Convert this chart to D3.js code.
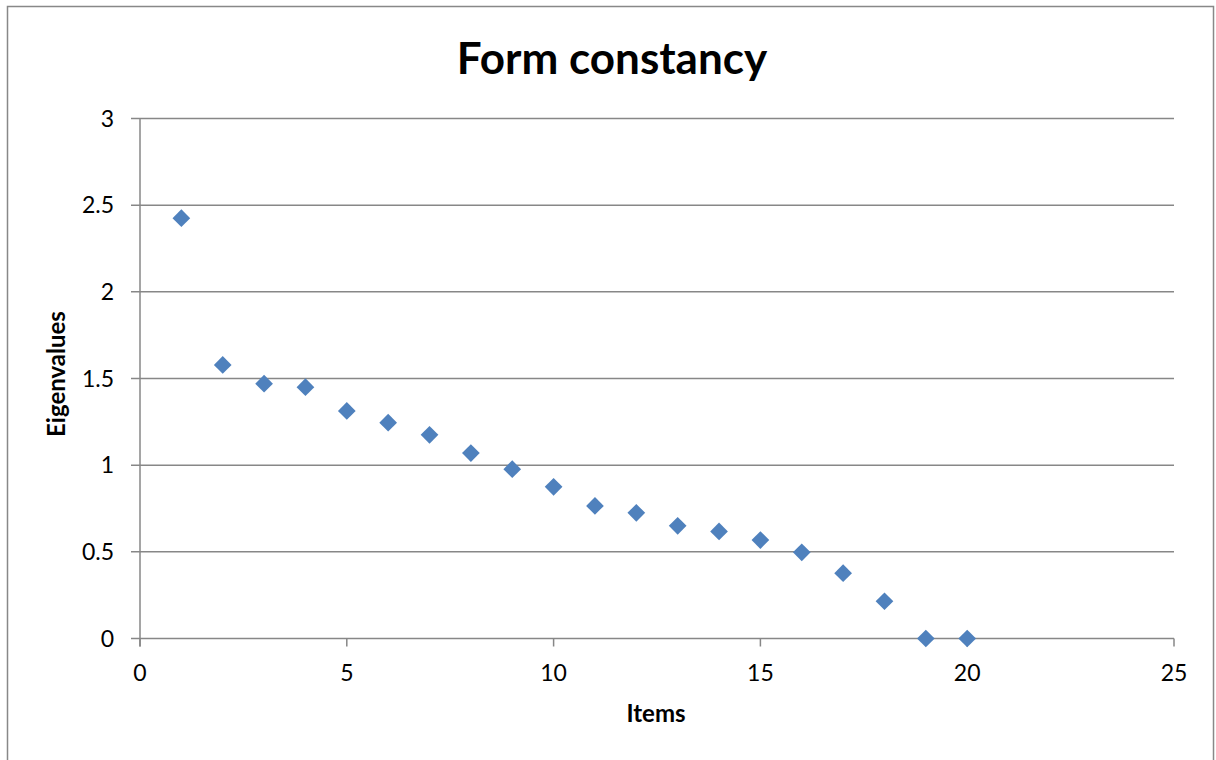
<!DOCTYPE html>
<html><head><meta charset="utf-8">
<script src="https://cdn.jsdelivr.net/npm/d3@7"></script>
<style>body{margin:0;background:#fff}svg{display:block}</style>
</head><body>
<script>
const items = [1,2,3,4,5,6,7,8,9,10,11,12,13,14,15,16,17,18,19,20];
const eigenvalues = [2.425,1.578,1.470,1.450,1.313,1.245,1.175,1.070,0.977,0.875,0.765,0.725,0.650,0.618,0.568,0.497,0.377,0.215,0.0,0.0];
const xTicks = [0,5,10,15,20,25];
const yTicks = [0,0.5,1,1.5,2,2.5,3];
const title = "Form constancy";
const xLabel = "Items";
const yLabel = "Eigenvalues";

const W = 1216, H = 760;
const svg = d3.select("body").append("svg").attr("width", W).attr("height", H);
const font = "Lato, 'Open Sans', sans-serif";

svg.append("rect").attr("x", 7.5).attr("y", 6.5).attr("width", 1206).attr("height", 760)
  .attr("fill", "#fff").attr("stroke", "#888").attr("stroke-width", 1.5);

const x = d3.scaleLinear().domain([0,25]).range([140,1174]);
const y = d3.scaleLinear().domain([0,3]).range([638.5,118.5]);

const grid = "#878787";
svg.append("g").selectAll("line").data(yTicks).join("line")
  .attr("x1", 131).attr("x2", x(25)).attr("y1", d=>y(d)).attr("y2", d=>y(d))
  .attr("stroke", grid).attr("stroke-width", 1.5);

svg.append("line").attr("x1", x(0)).attr("x2", x(0)).attr("y1", y(3)).attr("y2", y(0)+8)
  .attr("stroke", grid).attr("stroke-width", 1.5);
svg.append("g").selectAll("line").data(xTicks).join("line")
  .attr("x1", d=>x(d)).attr("x2", d=>x(d)).attr("y1", y(0)).attr("y2", y(0)+8)
  .attr("stroke", grid).attr("stroke-width", 1.5);

svg.append("g").selectAll("text").data(yTicks).join("text")
  .attr("x", 114).attr("y", d=>y(d)).attr("dy", "0.36em").attr("text-anchor", "end")
  .attr("font-family", font).attr("font-size", 23).attr("fill", "#000")
  .text(d=>d);
svg.append("g").selectAll("text").data(xTicks).join("text")
  .attr("x", d=>x(d)).attr("y", 681).attr("text-anchor", "middle")
  .attr("font-family", font).attr("font-size", 23).attr("fill", "#000")
  .text(d=>d);

const sym = d3.symbol().type(d3.symbolDiamond2).size(200);
svg.append("g").selectAll("path").data(items.map((d,i)=>[d, eigenvalues[i]])).join("path")
  .attr("d", sym)
  .attr("transform", d=>`translate(${x(d[0])},${y(d[1])})`)
  .attr("fill", "#4F81BD");

svg.append("text").attr("x", 612).attr("y", 74).attr("text-anchor", "middle")
  .attr("font-family", font).attr("font-weight", "bold").attr("font-size", 44).text(title);
svg.append("text").attr("x", 656).attr("y", 722).attr("text-anchor", "middle")
  .attr("font-family", font).attr("font-weight", "bold").attr("font-size", 24).text(xLabel);
svg.append("text").attr("transform", "translate(65,374) rotate(-90)").attr("text-anchor", "middle")
  .attr("font-family", font).attr("font-weight", "bold").attr("font-size", 24).text(yLabel);
</script>
</body></html>
